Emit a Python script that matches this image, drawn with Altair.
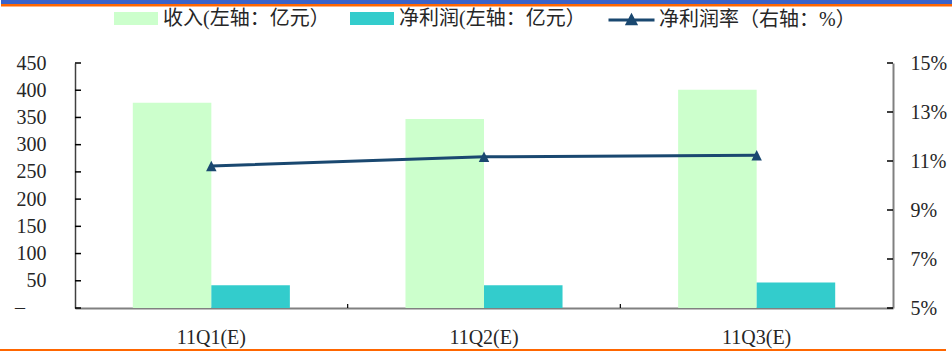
import altair as alt
import pandas as pd

# ---- data -------------------------------------------------------------
quarters = ["11Q1(E)", "11Q2(E)", "11Q3(E)"]
revenue = [377, 347, 401]          # 亿元
net_profit = [42, 42, 47]          # 亿元
net_margin = [10.8, 11.17, 11.23]  # %

series_names = ["收入(左轴：亿元）", "净利润(左轴：亿元）"]
margin_name = "净利润率（右轴：%）"
left_ticks = [0, 50, 100, 150, 200, 250, 300, 350, 400, 450]
right_ticks = [5, 7, 9, 11, 13, 15]
zero_label = "\u2013"  # accounting-style zero on the left axis

# ---- styling ----------------------------------------------------------
W, H = 818, 245
LATIN = "Liberation Serif"
MIXED = "Liberation Serif, Noto Sans CJK SC"
TEXT = "#262626"
NAVY = "#1A4870"
BAR_COLORS = ["#CCFFCC", "#33CCCC"]

bars_df = pd.DataFrame({
    "quarter": quarters * 2,
    "series": [series_names[0]] * 3 + [series_names[1]] * 3,
    "value": revenue + net_profit,
})
margin_df = pd.DataFrame({"quarter": quarters, "series": [margin_name] * 3, "margin": net_margin})
left_tick_df = pd.DataFrame({"value": left_ticks})
right_tick_df = pd.DataFrame({"margin": right_ticks})
band_df = pd.DataFrame({"quarter": quarters[1:]})
zero_df = pd.DataFrame({"value": [0], "label": [zero_label]})

x_scale = alt.Scale(domain=quarters, paddingInner=0, paddingOuter=0)
x_axis = alt.Axis(title=None, ticks=False, labelPadding=19, labelFont=LATIN,
                  labelFontSize=20, labelColor=TEXT, labelAngle=0,
                  domainColor="#808080", domainWidth=2)


def xdef(**kw):
    return alt.X("quarter:N", scale=x_scale, axis=x_axis, sort=quarters, **kw)


left_scale = alt.Scale(domain=[0, 450], nice=False, zero=True)
left_axis = alt.Axis(title=None, values=left_ticks, ticks=False, grid=False,
                     labelPadding=29, labelFont=LATIN, labelFontSize=20,
                     labelColor=TEXT, domainColor="#404040", domainWidth=1.5,
                     labelExpr="datum.value == 0 ? '' : datum.label")

right_scale = alt.Scale(domain=[5, 15], nice=False, zero=False)
right_axis = alt.Axis(title=None, orient="right", values=right_ticks, ticks=False,
                      grid=False, labelPadding=17, labelFont=LATIN, labelFontSize=20,
                      labelColor=TEXT, domainColor="#808080", domainWidth=2,
                      labelExpr="datum.value + '%'")

# ---- left axis: revenue and net profit bars ---------------------------
bars = alt.Chart(bars_df).mark_bar(opacity=1).encode(
    x=xdef(),
    xOffset=alt.XOffset("series:N", sort=series_names,
                        scale=alt.Scale(domain=series_names, paddingInner=0, paddingOuter=0.736)),
    y=alt.Y("value:Q", scale=left_scale, axis=left_axis),
    color=alt.Color("series:N",
                    scale=alt.Scale(domain=series_names, range=BAR_COLORS),
                    legend=alt.Legend(title=None, orient="none", legendX=39, legendY=-66.5,
                                      direction="horizontal",
                                      symbolType="M-1,-0.295H1V0.295H-1Z", symbolSize=1936,
                                      symbolStrokeWidth=0, symbolOpacity=1,
                                      labelFont=MIXED, labelFontSize=20, labelColor=TEXT,
                                      labelOffset=5, columnPadding=20, labelLimit=400,
                                      padding=0)),
)

left_tick_marks = alt.Chart(left_tick_df).mark_rule(color="#000000", strokeWidth=1.5).encode(
    y=alt.Y("value:Q", scale=left_scale, axis=left_axis),
    x=alt.value(0), x2=alt.value(6),
)

zero_text = alt.Chart(zero_df).mark_text(
    align="left", baseline="middle", font=LATIN, fontSize=20, color=TEXT
).encode(
    y=alt.Y("value:Q", scale=left_scale, axis=left_axis),
    x=alt.value(-60),
    text="label:N",
)

band_tick_marks = alt.Chart(band_df).mark_rule(color="#000000", strokeWidth=1.2).encode(
    x=xdef(bandPosition=0),
    y=alt.value(H - 4), y2=alt.value(H),
)

# ---- right axis: net margin line --------------------------------------
margin_line = alt.Chart(margin_df).mark_line(strokeWidth=3).encode(
    x=xdef(),
    y=alt.Y("margin:Q", scale=right_scale, axis=right_axis),
    stroke=alt.Stroke("series:N",
                      scale=alt.Scale(domain=[margin_name], range=[NAVY]),
                      legend=alt.Legend(title=None, orient="none", legendX=532, legendY=-67.5,
                                        direction="horizontal",
                                        symbolType="M-1,0H1M-0.18,0.16L0,-0.18L0.18,0.16Z",
                                        symbolSize=2116, symbolStrokeWidth=3,
                                        symbolStrokeColor=NAVY, symbolFillColor=NAVY,
                                        symbolOpacity=1,
                                        labelFont=MIXED, labelFontSize=20, labelColor=TEXT,
                                        labelOffset=3, labelLimit=400, padding=0)),
)

margin_points = alt.Chart(margin_df).mark_point(
    shape="M0,-1L1,1L-1,1Z", size=110, filled=True, color=NAVY, opacity=1
).encode(
    x=xdef(),
    y=alt.Y("margin:Q", scale=right_scale, axis=right_axis),
)

right_tick_marks = alt.Chart(right_tick_df).mark_rule(color="#000000", strokeWidth=1.5).encode(
    y=alt.Y("margin:Q", scale=right_scale, axis=right_axis),
    x=alt.value(W - 6), x2=alt.value(W),
)

# ---- page frame bands -------------------------------------------------
frame = alt.Chart(alt.Data(values=[{}]))
top_blue = frame.mark_rect(color="#3B63C9").encode(
    x=alt.value(-74), x2=alt.value(W + 59), y=alt.value(-63), y2=alt.value(-59))
top_orange = frame.mark_rect(color="#FF6600").encode(
    x=alt.value(-74), x2=alt.value(W + 59), y=alt.value(-59), y2=alt.value(-56.5))
bottom_orange = frame.mark_rect(color="#FF6600").encode(
    x=alt.value(-75), x2=alt.value(W + 53), y=alt.value(H + 41), y2=alt.value(H + 43))

left_group = alt.layer(bars, left_tick_marks, zero_text, band_tick_marks)
right_group = alt.layer(margin_line, margin_points, right_tick_marks)

chart = (
    alt.layer(left_group, right_group, top_blue, top_orange, bottom_orange)
    .resolve_scale(y="independent")
    .properties(width=W, height=H,
                padding={"left": 75, "top": 63, "right": 59, "bottom": 46},
                autosize=alt.AutoSizeParams(type="none"),
                background="white")
    .configure_view(strokeWidth=0)
)

chart.save("out.html", embed_options={"renderer": "svg", "actions": False})
